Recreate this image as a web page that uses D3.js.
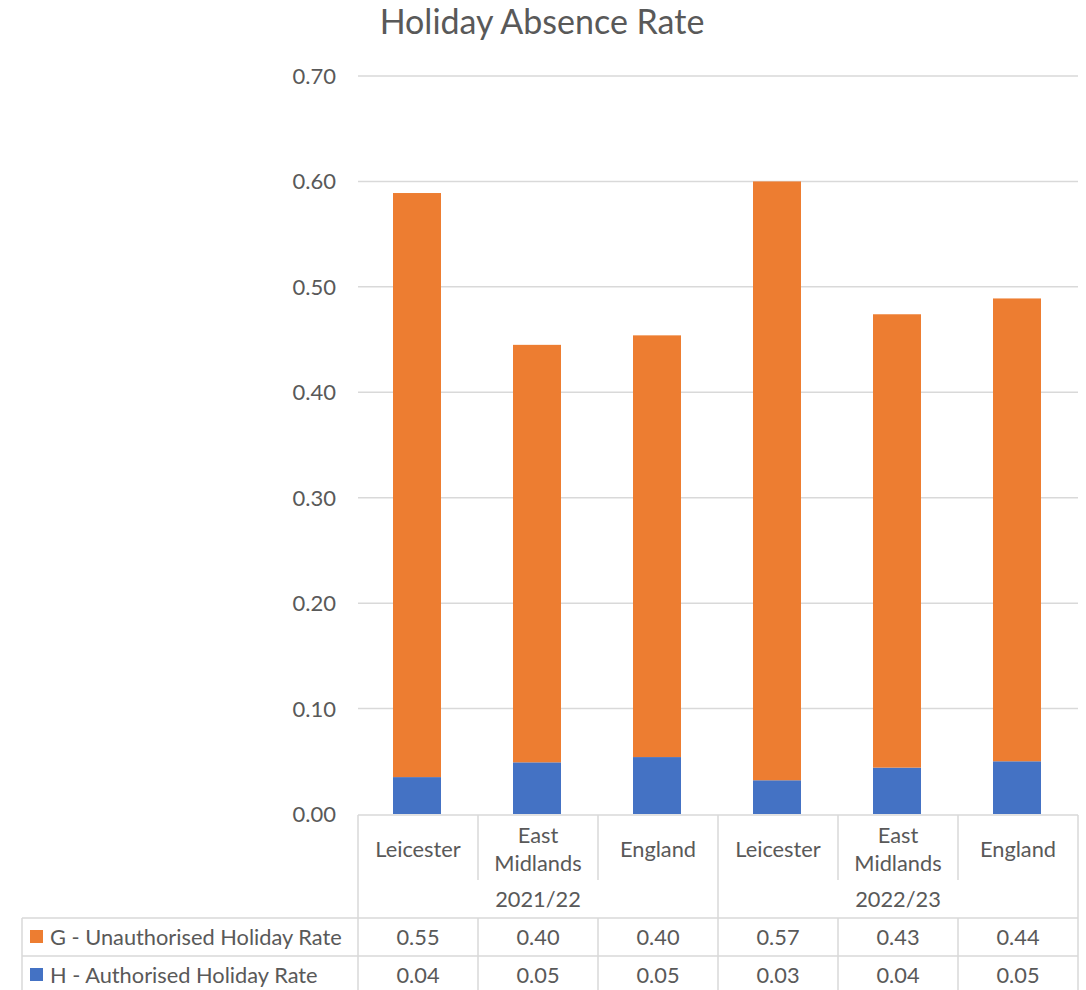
<!DOCTYPE html>
<html>
<head>
<meta charset="utf-8">
<script src="https://cdn.jsdelivr.net/npm/d3@7"></script>
<style>
  body { margin: 0; background: #fff; }
  svg text { font-family: Lato, "Open Sans", sans-serif; fill: #595959; }
</style>
</head>
<body>
<div id="chart"></div>
<script>
// chart data
const years = ["2021/22", "2022/23"];
const areas = ["Leicester", "East Midlands", "England"];
const seriesNames = ["G - Unauthorised Holiday Rate", "H - Authorised Holiday Rate"];
const unauthorised = [0.554, 0.396, 0.400, 0.568, 0.430, 0.439];
const authorised = [0.035, 0.049, 0.054, 0.032, 0.044, 0.050];
const yTicks = [0, 0.1, 0.2, 0.3, 0.4, 0.5, 0.6, 0.7];

const colors = { G: "#ed7d31", H: "#4472c4", grid: "#d9d9d9" };

const width = 1086, height = 990;
const plot = { left: 358, right: 1078, top: 76, bottom: 814 };
const fs = "21.8px";

const svg = d3.select("#chart").append("svg")
    .attr("width", width)
    .attr("height", height);

// one entry per bar
const rows = [];
years.forEach((yr, i) => {
    areas.forEach((a, j) => {
        const k = i * areas.length + j;
        rows.push({ key: k, year: yr, area: a, H: authorised[k], G: unauthorised[k] });
    });
});

const x = d3.scaleBand()
    .domain(rows.map(d => d.key))
    .range([plot.left, plot.right])
    .paddingInner(0)
    .paddingOuter(0);

const y = d3.scaleLinear()
    .domain([0, 0.7])
    .range([plot.bottom, plot.top]);

// title
svg.append("text")
    .attr("x", 542)
    .attr("y", 34)
    .attr("text-anchor", "middle")
    .attr("font-size", "34px")
    .text("Holiday Absence Rate");

// gridlines + y labels
svg.append("g")
    .selectAll("line")
    .data(yTicks.slice(1))
    .enter()
    .append("line")
    .attr("x1", plot.left)
    .attr("x2", plot.right)
    .attr("y1", d => y(d))
    .attr("y2", d => y(d))
    .attr("stroke", colors.grid)
    .attr("stroke-width", 1.5);

svg.append("g")
    .selectAll("text")
    .data(yTicks)
    .enter()
    .append("text")
    .attr("x", 336)
    .attr("y", d => y(d) + 8)
    .attr("text-anchor", "end")
    .attr("font-size", "22px")
    .text(d => d.toFixed(2));

// stacked bars
const stack = d3.stack().keys(["H", "G"]);
const layers = stack(rows);
const barW = x.bandwidth() * 0.4;

svg.append("g")
    .selectAll("g")
    .data(layers)
    .enter()
    .append("g")
    .attr("fill", d => colors[d.key])
    .selectAll("rect")
    .data(d => d)
    .enter()
    .append("rect")
    .attr("x", d => x(d.data.key) + (x.bandwidth() - barW) / 2 - 1)
    .attr("width", barW)
    .attr("y", d => y(d[1]))
    .attr("height", d => y(d[0]) - y(d[1]));

// data table lines
const lines = svg.append("g").attr("stroke", colors.grid).attr("stroke-width", 1.5);
const catBottom = 880, yearBottom = 918, rowH = 38;
const tableLeft = 22;

lines.append("line").attr("x1", plot.left).attr("x2", plot.right).attr("y1", plot.bottom + 1).attr("y2", plot.bottom + 1);
lines.append("line").attr("x1", tableLeft).attr("x2", plot.right).attr("y1", yearBottom).attr("y2", yearBottom);
lines.append("line").attr("x1", tableLeft).attr("x2", plot.right).attr("y1", yearBottom + rowH).attr("y2", yearBottom + rowH);
lines.append("line").attr("x1", tableLeft).attr("x2", tableLeft).attr("y1", yearBottom).attr("y2", height);

// vertical dividers: between areas stop at the category row, between years run down
x.domain().concat([rows.length]).forEach(k => {
    const xx = k < rows.length ? x(k) : plot.right;
    const yearEdge = k % areas.length === 0;
    lines.append("line")
        .attr("x1", xx).attr("x2", xx)
        .attr("y1", plot.bottom + 1)
        .attr("y2", yearEdge ? height : catBottom);
    if (!yearEdge) {
        lines.append("line")
            .attr("x1", xx).attr("x2", xx)
            .attr("y1", yearBottom)
            .attr("y2", height);
    }
});

// category labels
const cat = svg.append("g");
rows.forEach(d => {
    const cx = x(d.key) + x.bandwidth() / 2;
    const words = d.area.split(" ");
    const t = cat.append("text")
        .attr("text-anchor", "middle")
        .attr("font-size", fs);
    if (words.length === 1) {
        t.attr("x", cx).attr("y", 857).text(d.area);
    } else {
        words.forEach((w, i) => {
            t.append("tspan").attr("x", cx).attr("y", 843 + i * 28).text(w);
        });
    }
});

years.forEach((yr, i) => {
    const k0 = i * areas.length;
    const cx = (x(k0) + x(k0 + areas.length - 1) + x.bandwidth()) / 2;
    cat.append("text")
        .attr("x", cx)
        .attr("y", 907)
        .attr("text-anchor", "middle")
        .attr("font-size", fs)
        .text(yr);
});

// table rows
const tableSeries = [
    { name: seriesNames[0], key: "G", values: unauthorised },
    { name: seriesNames[1], key: "H", values: authorised }
];

tableSeries.forEach((s, i) => {
    const rowY = yearBottom + i * rowH;
    svg.append("rect")
        .attr("x", 30)
        .attr("y", rowY + 12)
        .attr("width", 13)
        .attr("height", 13)
        .attr("fill", colors[s.key]);
    svg.append("text")
        .attr("x", 50)
        .attr("y", rowY + 27)
        .attr("font-size", fs)
        .text(s.name);
    s.values.forEach((v, k) => {
        svg.append("text")
            .attr("x", x(k) + x.bandwidth() / 2)
            .attr("y", rowY + 27)
            .attr("text-anchor", "middle")
            .attr("font-size", fs)
            .text(v.toFixed(2));
    });
});
</script>
</body>
</html>
